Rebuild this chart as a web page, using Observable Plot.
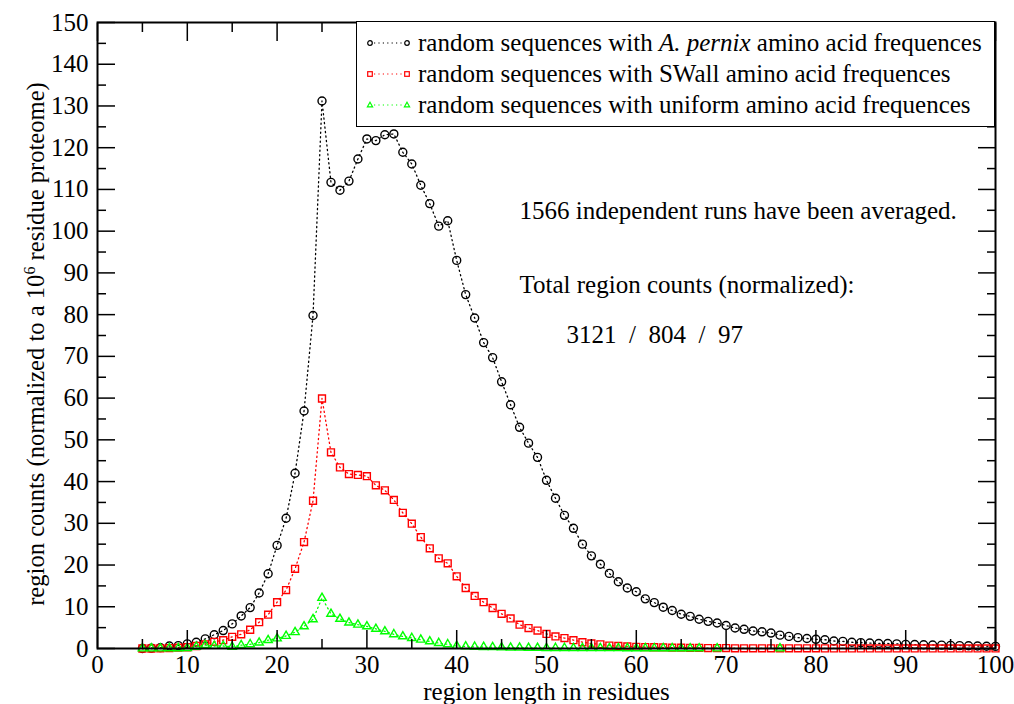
<!DOCTYPE html>
<html><head><meta charset="utf-8">
<script src="https://cdn.jsdelivr.net/npm/d3@7"></script>
<script src="https://cdn.jsdelivr.net/npm/@observablehq/plot@0.6"></script>
<style>
body{margin:0;background:#fff;}
#wrap{position:relative;width:1014px;height:704px;overflow:hidden;font-family:"Liberation Serif","Times New Roman",serif;color:#000;}
#legend{position:absolute;left:356px;top:21px;width:637px;height:104px;background:#fff;border:1.5px solid #000;}
.row{position:absolute;left:0;height:30px;display:flex;align-items:center;font-size:25px;white-space:nowrap;}
.row svg{margin-left:8px;margin-right:7px;}
#ylab{position:absolute;left:36px;top:344px;transform:translate(-50%,-50%) rotate(-90deg);font-size:24.6px;white-space:nowrap;line-height:1;}
#ylab sup{font-size:16px;position:relative;top:-2px;vertical-align:top;}
</style></head><body><div id="wrap"></div>
<script>
const lengths = d3.range(5, 101);
const pernix = [0,0.1,0.2,0.6,0.7,1.1,1.5,2.3,3.3,4.3,5.9,7.8,9.8,13.3,17.9,24.7,31.2,42.0,56.9,79.8,
131.2,111.7,109.8,112.0,117.3,122.1,121.7,123.1,123.3,118.9,116.1,111.0,106.6,101.2,102.5,93.0,84.8,79.2,73.3,69.7,
63.9,58.4,53.0,49.2,45.8,40.3,36.0,31.9,28.8,25.0,22.2,20.2,18.0,16.0,14.5,13.6,11.9,11.0,9.9,9.1,
8.2,7.7,7.0,6.5,6.1,5.5,4.9,4.6,4.2,4.0,3.7,3.2,2.9,2.6,2.4,2.2,2.1,1.8,1.7,1.5,
1.4,1.3,1.2,1.2,1.1,1.0,0.95,0.9,0.85,0.8,0.75,0.7,0.65,0.6,0.55,0.5];
const swall = [0,0,0.05,0.1,0.2,0.3,0.6,1.0,1.6,2.0,2.8,3.4,4.5,6.3,8.1,11.1,14.0,19.1,25.5,35.4,
59.9,47.0,43.4,41.8,41.6,41.3,39.1,37.9,35.6,32.5,29.9,26.7,24.0,21.6,20.4,17.3,14.5,12.6,11.1,9.7,
8.3,7.2,5.7,4.9,4.3,3.5,2.9,2.5,2.0,1.5,1.2,1.0,0.7,0.6,0.5,0.4,0.35,0.3,0.25,0.2,
0.2,0.15,0.15,0.1,0.1,0.1,0.05,0.05,0.05,0.05,0.05,0.05,0.05,0.05,0.05,0.05,0.03,0.03,0.03,0.03,
0.02,0.02,0.02,0.02,0.02,0.02,0.02,0.02,0.02,0.02,0.02,0.02,0.02,0.02,0.02,0.02];
const uniformLengths = [5,6,7,8,9,10,11,12,13,14,15,16,17,18,19,20,21,22,23,24,25,26,27,28,29,30,31,32,33,34,35,36,37,38,39,40,
41,42,43,44,45,46,47,48,49,50,51,52,53,54,55,56,57,58,59,60,61,62,63,64,65,66,67,69,76];
const uniform = [0,0,0,0.05,0.05,0.1,0.4,0.8,0.6,0.6,0.4,0.8,1.0,1.4,2.0,2.4,3.0,3.9,5.3,7.0,
12.1,8.3,7.1,6.2,5.7,5.3,4.7,4.1,3.4,2.9,2.5,2.1,1.7,1.3,1.0,0.6,
0.5,0.4,0.35,0.3,0.25,0.2,0.2,0.15,0.15,0.1,0.1,0.1,0.08,0.08,0.07,0.07,0.06,0.06,0.05,0.05,0.05,0.04,0.04,0.04,0.03,0.03,0.03,0.02,0.02];
const xMajor = [0,10,20,30,40,50,60,70,80,90,100];
const xMinor = [5,15,25,35,45,55,65,75,85,95];
const yMajor = [0,10,20,30,40,50,60,70,80,90,100,110,120,130,140,150];
const yMinor = [5,15,25,35,45,55,65,75,85,95,105,115,125,135,145];
const seriesNames = ["random sequences with ", "random sequences with SWall amino acid frequences", "random sequences with uniform amino acid frequences"];
const notes = ["1566 independent runs have been averaged.", "Total region counts (normalized):", "3121\u00a0\u00a0/\u00a0\u00a0804\u00a0\u00a0/\u00a0\u00a097"];
const xLabel = "region length in residues";

const black = lengths.map((x,i)=>({x, y: pernix[i]}));
const red = lengths.map((x,i)=>({x, y: swall[i]}));
const green = uniformLengths.map((x,i)=>({x, y: uniform[i]}));

const dash = "1.2,3.3";
const none = () => "";
const plot = Plot.plot({
  width: 1014, height: 704,
  marginLeft: 97, marginRight: 19, marginTop: 22, marginBottom: 56,
  style: {fontFamily: '"Liberation Serif", serif', fontSize: "25px", background: "white", color: "black", overflow: "visible"},
  x: {domain: [0, 100]},
  y: {domain: [0, 150]},
  marks: [
    Plot.line(black, {x: "x", y: "y", stroke: "black", strokeWidth: 1.3, strokeDasharray: dash}),
    Plot.dot(black, {x: "x", y: "y", r: 4, stroke: "black", strokeWidth: 1.4, fill: "none"}),
    Plot.line(red, {x: "x", y: "y", stroke: "#ff0000", strokeWidth: 1.3, strokeDasharray: dash}),
    Plot.dot(red, {x: "x", y: "y", r: 3.9, symbol: "square", stroke: "#ff0000", strokeWidth: 1.4, fill: "none"}),
    Plot.line(green, {x: "x", y: "y", stroke: "#00ff00", strokeWidth: 1.3, strokeDasharray: dash}),
    Plot.dot(green, {x: "x", y: "y", r: 3.1, symbol: "triangle", stroke: "#00ff00", strokeWidth: 1.4, fill: "none"}),
    Plot.axisX({anchor: "bottom", ticks: xMajor, tickSize: -18, tickPadding: 25, fontSize: 25, strokeWidth: 1.5, label: null}),
    Plot.axisX({anchor: "bottom", ticks: xMinor, tickSize: -9, tickFormat: none, strokeWidth: 1.5, label: null}),
    Plot.axisX({anchor: "top", ticks: xMajor, tickSize: -18, tickFormat: none, strokeWidth: 1.5, label: null}),
    Plot.axisX({anchor: "top", ticks: xMinor, tickSize: -9, tickFormat: none, strokeWidth: 1.5, label: null}),
    Plot.axisY({anchor: "left", ticks: yMajor, tickSize: -18, tickPadding: 27, fontSize: 25, strokeWidth: 1.5, label: null}),
    Plot.axisY({anchor: "left", ticks: yMinor, tickSize: -9, tickFormat: none, strokeWidth: 1.5, label: null}),
    Plot.axisY({anchor: "right", ticks: yMajor, tickSize: -18, tickFormat: none, strokeWidth: 1.5, label: null}),
    Plot.axisY({anchor: "right", ticks: yMinor, tickSize: -9, tickFormat: none, strokeWidth: 1.5, label: null}),
    Plot.frame({stroke: "black", strokeWidth: 2}),
    Plot.text([notes[0]], {frameAnchor: "top-left", textAnchor: "start", dx: 422, dy: 179, fontSize: 25}),
    Plot.text([notes[1]], {frameAnchor: "top-left", textAnchor: "start", dx: 422, dy: 253, fontSize: 25}),
    Plot.text([notes[2]], {frameAnchor: "top-left", textAnchor: "start", dx: 469, dy: 303, fontSize: 25}),
    Plot.text([xLabel], {frameAnchor: "bottom", dy: 51, fontSize: 25})
  ]
});
const wrap = document.getElementById("wrap");
wrap.appendChild(plot);

// legend
const legend = document.createElement("div");
legend.id = "legend";
const colors = ["#000", "#ff0000", "#00ff00"];
const shapes = ["circle", "square", "triangle"];
function marker(shape, cx, cy, c) {
  if (shape === "circle") return `<circle cx="${cx}" cy="${cy}" r="2.3" fill="none" stroke="${c}" stroke-width="1.2"/>`;
  if (shape === "square") return `<rect x="${cx-2.3}" y="${cy-2.3}" width="4.6" height="4.6" fill="none" stroke="${c}" stroke-width="1.2"/>`;
  return `<path d="M${cx},${cy-2.8}L${cx+2.6},${cy+1.8}L${cx-2.6},${cy+1.8}Z" fill="none" stroke="${c}" stroke-width="1.2"/>`;
}
const rowTops = [6, 37, 68];
seriesNames.forEach((name, i) => {
  const row = document.createElement("div");
  row.className = "row";
  row.style.top = rowTops[i] + "px";
  const svg = `<svg width="46" height="12" viewBox="0 0 46 12">${marker(shapes[i], 5, 6, colors[i])}<line x1="9" y1="6" x2="38" y2="6" stroke="${colors[i]}" stroke-width="1.2" stroke-dasharray="1.2,3.2"/>${marker(shapes[i], 42, 6, colors[i])}</svg>`;
  const text = i === 0 ? `${name}<i>A. pernix</i>&nbsp;amino acid frequences` : name;
  row.innerHTML = svg + `<span>${text}</span>`;
  legend.appendChild(row);
});
wrap.appendChild(legend);

const ylab = document.createElement("div");
ylab.id = "ylab";
ylab.innerHTML = "region counts (normalized to a 10<sup>6</sup> residue proteome)";
wrap.appendChild(ylab);
</script>
</body></html>
